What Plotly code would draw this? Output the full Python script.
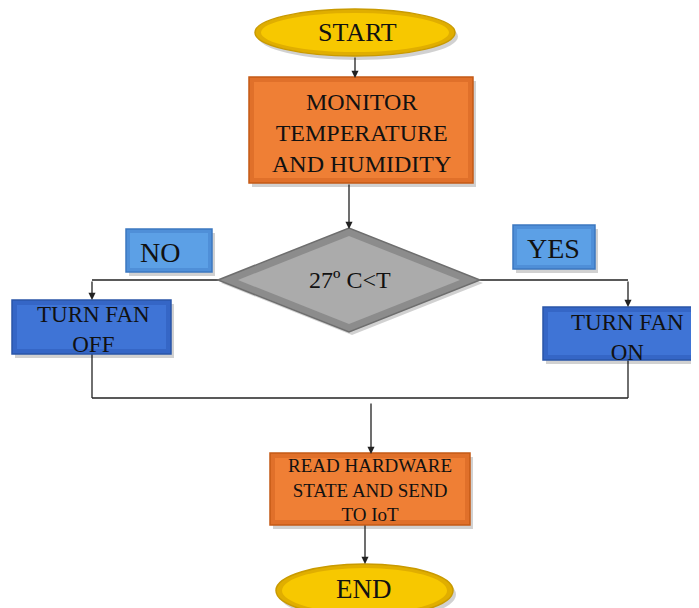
import plotly.graph_objects as go

# ---- content (text of the flowchart) ----
terminal_labels = ["START", "END"]
process_labels = ["MONITOR<br>TEMPERATURE<br>AND HUMIDITY", "READ HARDWARE<br>STATE AND SEND<br>TO IoT"]
decision_label = "27º C&lt;T"
branch_labels = ["NO", "YES"]
action_labels = ["TURN FAN<br>OFF", "TURN FAN<br>ON"]

# ---- geometry (pixel-like data coordinates, y downward) ----
W, H = 699, 608
OFF = 8  # page body margin compensation
FONT = "Liberation Serif, Times New Roman, serif"

shapes = []
annotations = []


def shadow(x0, y0, x1, y1, kind="rect"):
    shapes.append(dict(type=kind, x0=x0 + 3, y0=y0 + 4, x1=x1 + 3, y1=y1 + 4,
                       fillcolor="rgba(0,0,0,0.18)", line=dict(width=0), layer="below"))


def bevel_rect(x0, y0, x1, y1, edge, fill, inner, inset=5):
    shadow(x0, y0, x1, y1)
    shapes.append(dict(type="rect", x0=x0, y0=y0, x1=x1, y1=y1, fillcolor=fill,
                       line=dict(color=edge, width=1.5), layer="below"))
    shapes.append(dict(type="rect", x0=x0 + inset, y0=y0 + inset, x1=x1 - inset, y1=y1 - inset,
                       fillcolor=inner, line=dict(width=0), layer="below"))


def ellipse(x0, y0, x1, y1):
    shadow(x0, y0, x1, y1, "circle")
    shapes.append(dict(type="circle", x0=x0, y0=y0, x1=x1, y1=y1, fillcolor="#E0AE00",
                       line=dict(color="#C99A00", width=1.5), layer="below"))
    shapes.append(dict(type="circle", x0=x0 + 6, y0=y0 + 4, x1=x1 - 6, y1=y1 - 4,
                       fillcolor="#F7C800", line=dict(width=0), layer="below"))


def text(x, y, s, size):
    annotations.append(dict(x=x, y=y, text=s, showarrow=False, xref="x", yref="y",
                            font=dict(family=FONT, size=size, color="#111111"),
                            xanchor="center", yanchor="middle"))


def line(x0, y0, x1, y1):
    shapes.append(dict(type="line", x0=x0, y0=y0, x1=x1, y1=y1,
                       line=dict(color="#222222", width=1.3), layer="below"))


def arrow(x0, y0, x1, y1):
    annotations.append(dict(x=x1, y=y1, ax=x0, ay=y0, xref="x", yref="y", axref="x", ayref="y",
                            text="", showarrow=True, arrowhead=2, arrowsize=1.1,
                            arrowwidth=1.3, arrowcolor="#222222"))


# connectors (drawn first so they sit under boxes)
arrow(355, 56, 355, 78)
arrow(349, 183, 349, 229)
line(218, 280, 92, 280)
arrow(92, 280, 92, 300)
line(480, 280, 628, 280)
arrow(628, 280, 628, 307)
line(92, 354, 92, 398)
line(628, 360, 628, 398)
line(92, 398, 628, 398)
arrow(371, 402, 371, 454)
arrow(365, 524, 365, 564)

# START / END terminals
ellipse(255, 9, 455, 56)
text(357, 32, terminal_labels[0], 26)
ellipse(276, 564, 453, 617)
text(364, 589, terminal_labels[1], 27)

# process boxes
bevel_rect(249, 77, 473, 183, "#C45A16", "#E0702A", "#EF7F35")
text(361, 133, process_labels[0], 24)
bevel_rect(270, 453, 470, 525, "#C45A16", "#E0702A", "#EF7F35")
text(370, 490, process_labels[1], 19)

# decision diamond
shapes.append(dict(type="path", path="M 221,283 L 352,231 L 483,283 L 352,335 Z",
                   fillcolor="rgba(0,0,0,0.18)", line=dict(width=0), layer="below"))
shapes.append(dict(type="path", path="M 218,280 L 349,228 L 480,280 L 349,332 Z",
                   fillcolor="#8C8C8C", line=dict(color="#6E6E6E", width=1.5), layer="below"))
shapes.append(dict(type="path", path="M 238,280 L 349,236 L 460,280 L 349,324 Z",
                   fillcolor="#ABABAB", line=dict(width=0), layer="below"))
text(350, 280, decision_label, 24)

# branch labels
bevel_rect(126, 229, 212, 272, "#3C78C0", "#4F8FD8", "#5CA0E6", inset=4)
text(160, 252, branch_labels[0], 28)
bevel_rect(513, 225, 595, 269, "#3C78C0", "#4F8FD8", "#5CA0E6", inset=4)
text(553, 248, branch_labels[1], 28)

# actions
bevel_rect(12, 300, 171, 354, "#2A56A8", "#3566C6", "#3F74D6")
text(93, 329, action_labels[0], 23)
bevel_rect(543, 307, 702, 360, "#2A56A8", "#3566C6", "#3F74D6")
text(627, 337, action_labels[1], 23)

fig = go.Figure()
fig.update_layout(
    width=W, height=H,
    margin=dict(l=0, r=0, t=0, b=0),
    paper_bgcolor="white", plot_bgcolor="white",
    xaxis=dict(range=[OFF, W + OFF], visible=False, fixedrange=True),
    yaxis=dict(range=[H + OFF, OFF], visible=False, fixedrange=True),
    shapes=shapes, annotations=annotations, showlegend=False,
)
fig.write_html("out.html")
